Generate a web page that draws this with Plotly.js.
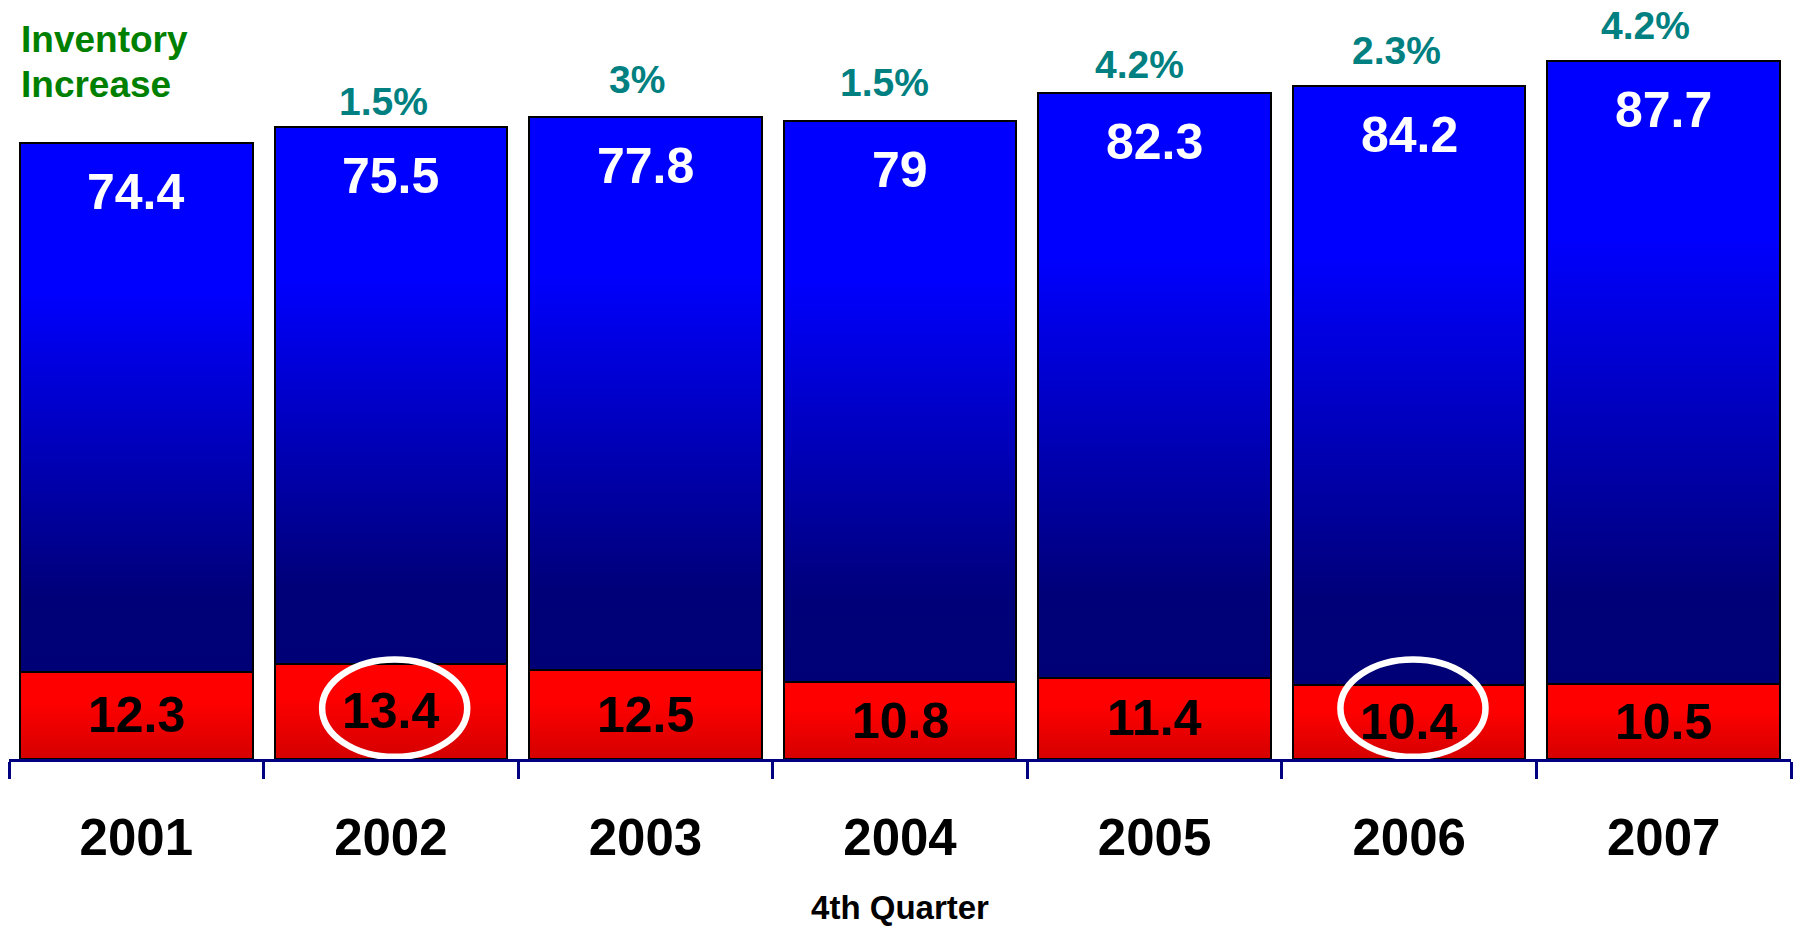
<!DOCTYPE html>
<html>
<head>
<meta charset="utf-8">
<script src="https://cdn.plot.ly/plotly-3.0.1.min.js"></script>
<style>
  html, body { margin: 0; padding: 0; background: #ffffff; }
  #chart { width: 1796px; height: 926px; }
</style>
</head>
<body>
<div id="chart"></div>
<script>
// ---- data ----
const years = ['2001', '2002', '2003', '2004', '2005', '2006', '2007'];
const redValues = [12.3, 13.4, 12.5, 10.8, 11.4, 10.4, 10.5];
const blueValues = [74.4, 75.5, 77.8, 79, 82.3, 84.2, 87.7];
const increaseLabels = ['', '1.5%', '3%', '1.5%', '4.2%', '2.3%', '4.2%'];
const highlightedYears = ['2002', '2006'];
const xAxisTitle = '4th Quarter';
const cornerLabelLines = ['Inventory', 'Increase'];

// ---- label nudges (pixels) ----
const pctShiftX = [0, -7, -8, -16, -15, -13, -18];
const pctShiftY = [0, 25, 37, 38, 28, 36, 35];
const cornerShiftY = [9, -36];

const FONT = 'Liberation Sans, Arial, Helvetica, sans-serif';

const traces = [
  {
    type: 'bar', x: years, y: redValues, name: 'red',
    marker: { color: '#ff0000', line: { color: '#000000', width: 2 } },
    hoverinfo: 'skip'
  },
  {
    type: 'bar', x: years, y: blueValues, name: 'blue',
    marker: { color: '#0000ff', line: { color: '#000000', width: 2 } },
    hoverinfo: 'skip'
  }
];

const annotations = [];
years.forEach((yr, i) => {
  const total = redValues[i] + blueValues[i];
  annotations.push({
    x: i, y: total, xref: 'x', yref: 'y', text: String(blueValues[i]),
    showarrow: false, yanchor: 'middle', xanchor: 'center', yshift: -49,
    font: { family: FONT, size: 50, color: '#ffffff', weight: 'bold' }
  });
  annotations.push({
    x: i, y: redValues[i] / 2, xref: 'x', yref: 'y', text: String(redValues[i]),
    showarrow: false, yanchor: 'middle', xanchor: 'center',
    font: { family: FONT, size: 50, color: '#000000', weight: 'bold' }
  });
  if (increaseLabels[i]) {
    annotations.push({
      x: i, y: total, xref: 'x', yref: 'y', text: increaseLabels[i],
      showarrow: false, yanchor: 'middle', xanchor: 'center',
      xshift: pctShiftX[i], yshift: pctShiftY[i],
      font: { family: FONT, size: 39, color: '#008080', weight: 'bold' }
    });
  }
});
cornerLabelLines.forEach((line, k) => {
  annotations.push({
    x: 0, y: 1, xref: 'paper', yref: 'paper', text: line,
    showarrow: false, xanchor: 'left', yanchor: 'middle', align: 'left',
    xshift: 10, yshift: cornerShiftY[k],
    font: { family: FONT, size: 37, color: '#008000', weight: 'bold' }
  });
});

const shapes = highlightedYears.map(yr => {
  const idx = years.indexOf(yr);
  return {
    type: 'circle', xref: 'x', yref: 'y', layer: 'above',
    x0: idx - 0.27, x1: idx + 0.30, y0: 0.3, y1: 14.0,
    line: { color: '#ffffff', width: 6.5 }, fillcolor: 'rgba(0,0,0,0)'
  };
});

const layout = {
  width: 1796, height: 926,
  margin: { l: 9, r: 5, t: 48, b: 167, pad: 0 },
  paper_bgcolor: '#ffffff', plot_bgcolor: '#ffffff',
  barmode: 'stack', bargap: 0.086,
  showlegend: false,
  xaxis: {
    type: 'category', categoryorder: 'array', categoryarray: years,
    range: [-0.5, 6.5], autorange: false,
    showline: true, linecolor: '#000080', linewidth: 3,
    ticks: 'outside', tickson: 'boundaries', ticklen: 17, tickwidth: 3, tickcolor: '#000080',
    showgrid: false, zeroline: false, ticklabelstandoff: 32, tickangle: 0,
    tickfont: { family: FONT, size: 51, color: '#000000', weight: 'bold' },
    title: { text: xAxisTitle, standoff: 34, font: { family: FONT, size: 33, color: '#000000', weight: 'bold' } },
    automargin: false
  },
  yaxis: { range: [0, 100], autorange: false, visible: false, showgrid: false, zeroline: false, fixedrange: true },
  annotations: annotations,
  shapes: shapes,
  font: { family: FONT }
};

function applyGradients(gd) {
  const svg = gd.querySelector('svg.main-svg');
  const ns = 'http://www.w3.org/2000/svg';
  let defs = svg.querySelector('defs');
  if (!defs) { defs = document.createElementNS(ns, 'defs'); svg.insertBefore(defs, svg.firstChild); }
  function grad(id, stops) {
    const g = document.createElementNS(ns, 'linearGradient');
    g.setAttribute('id', id);
    g.setAttribute('x1', '0'); g.setAttribute('y1', '0');
    g.setAttribute('x2', '0'); g.setAttribute('y2', '1');
    stops.forEach(s => {
      const st = document.createElementNS(ns, 'stop');
      st.setAttribute('offset', s[0]);
      st.setAttribute('stop-color', s[1]);
      g.appendChild(st);
    });
    defs.appendChild(g);
  }
  grad('gradRed', [['0', '#ff0000'], ['0.35', '#ff0000'], ['1', '#d40000']]);
  grad('gradBlue', [['0', '#0000ff'], ['0.28', '#0000ff'], ['0.86', '#000078'], ['1', '#000076']]);
  const tr = gd.querySelectorAll('.barlayer .trace');
  const ids = ['gradRed', 'gradBlue'];
  tr.forEach((t, i) => {
    t.querySelectorAll('.point path').forEach(p => { p.style.fill = 'url(#' + ids[i] + ')'; });
  });
}

Plotly.newPlot('chart', traces, layout, { staticPlot: true, displayModeBar: false })
  .then(gd => applyGradients(gd));
</script>
</body>
</html>
